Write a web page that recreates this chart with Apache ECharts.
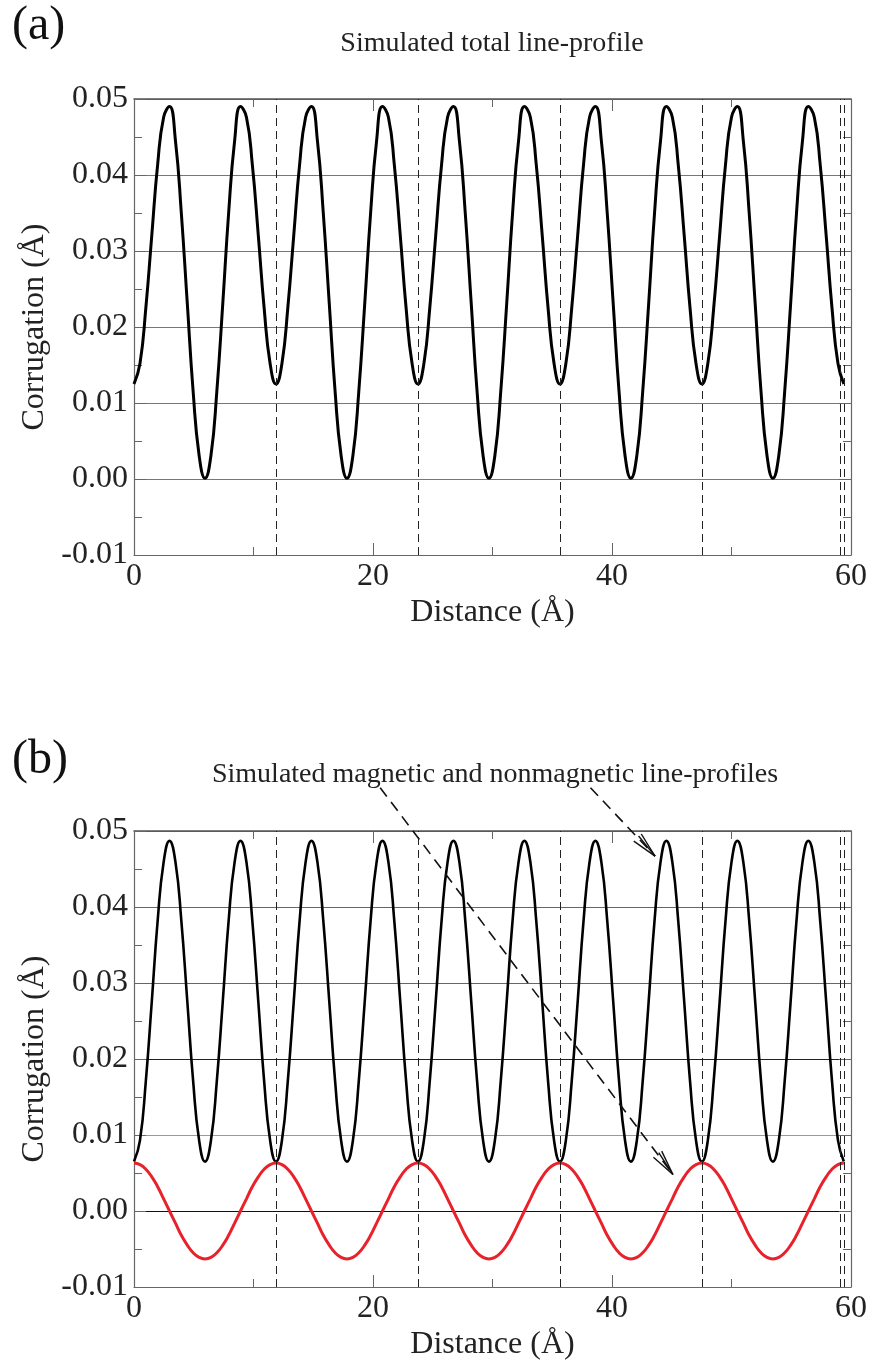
<!DOCTYPE html>
<html>
<head>
<meta charset="utf-8">
<script src="https://cdn.jsdelivr.net/npm/echarts@6/dist/echarts.min.js"></script>
<style>
  html, body { margin: 0; padding: 0; background: #fff; }
  #chart { width: 873px; height: 1364px; }
</style>
</head>
<body>
<div id="chart"></div>
<script>
// sample positions along the line (Å)
var distance = [
  0, 0.50, 0.99, 1.49, 1.98, 2.48, 2.97, 3.47, 3.96, 4.46, 4.95, 5.45,
  5.94, 6.44, 6.93, 7.43, 7.92, 8.42, 8.91, 9.41, 9.90, 10.40, 10.89, 11.39,
  11.88, 12.38, 12.87, 13.37, 13.86, 14.36, 14.85, 15.35, 15.84, 16.34, 16.83, 17.33,
  17.82, 18.32, 18.81, 19.31, 19.80, 20.30, 20.79, 21.29, 21.78, 22.28, 22.77, 23.27,
  23.76, 24.26, 24.75, 25.25, 25.74, 26.24, 26.73, 27.23, 27.72, 28.22, 28.71, 29.21,
  29.70, 30.20, 30.69, 31.19, 31.68, 32.18, 32.67, 33.17, 33.66, 34.16, 34.65, 35.15,
  35.64, 36.14, 36.63, 37.13, 37.62, 38.12, 38.61, 39.11, 39.60, 40.10, 40.59, 41.09,
  41.58, 42.08, 42.57, 43.07, 43.56, 44.06, 44.55, 45.05, 45.54, 46.04, 46.53, 47.03,
  47.52, 48.02, 48.51, 49.01, 49.50, 50.00, 50.49, 50.99, 51.48, 51.98, 52.47, 52.97,
  53.46, 53.96, 54.45, 54.95, 55.44, 55.94, 56.43, 56.93, 57.42, 57.92, 58.41, 58.91,
  59.40
];

// (a) total corrugation (Å)
var totalProfile = [
  0.0125, 0.0152, 0.0225, 0.0321, 0.0414, 0.0476, 0.0490, 0.0445, 0.0350, 0.0231, 0.0115, 0.0031,
  0.0001, 0.0031, 0.0115, 0.0231, 0.0350, 0.0445, 0.0490, 0.0476, 0.0414, 0.0321, 0.0225, 0.0152,
  0.0125, 0.0152, 0.0225, 0.0321, 0.0414, 0.0476, 0.0490, 0.0445, 0.0350, 0.0231, 0.0115, 0.0031,
  0.0001, 0.0031, 0.0115, 0.0231, 0.0350, 0.0445, 0.0490, 0.0476, 0.0414, 0.0321, 0.0225, 0.0152,
  0.0125, 0.0152, 0.0225, 0.0321, 0.0414, 0.0476, 0.0490, 0.0445, 0.0350, 0.0231, 0.0115, 0.0031,
  0.0001, 0.0031, 0.0115, 0.0231, 0.0350, 0.0445, 0.0490, 0.0476, 0.0414, 0.0321, 0.0225, 0.0152,
  0.0125, 0.0152, 0.0225, 0.0321, 0.0414, 0.0476, 0.0490, 0.0445, 0.0350, 0.0231, 0.0115, 0.0031,
  0.0001, 0.0031, 0.0115, 0.0231, 0.0350, 0.0445, 0.0490, 0.0476, 0.0414, 0.0321, 0.0225, 0.0152,
  0.0125, 0.0152, 0.0225, 0.0321, 0.0414, 0.0476, 0.0490, 0.0445, 0.0350, 0.0231, 0.0115, 0.0031,
  0.0001, 0.0031, 0.0115, 0.0231, 0.0350, 0.0445, 0.0490, 0.0476, 0.0414, 0.0321, 0.0225, 0.0152,
  0.0125
];

// (b) black curve
var nonmagneticProfile = [
  0.0065, 0.0093, 0.0171, 0.0276, 0.0382, 0.0459, 0.0487, 0.0459, 0.0382, 0.0276, 0.0171, 0.0093,
  0.0065, 0.0093, 0.0171, 0.0276, 0.0382, 0.0459, 0.0487, 0.0459, 0.0382, 0.0276, 0.0171, 0.0093,
  0.0065, 0.0093, 0.0171, 0.0276, 0.0382, 0.0459, 0.0487, 0.0459, 0.0382, 0.0276, 0.0171, 0.0093,
  0.0065, 0.0093, 0.0171, 0.0276, 0.0382, 0.0459, 0.0487, 0.0459, 0.0382, 0.0276, 0.0171, 0.0093,
  0.0065, 0.0093, 0.0171, 0.0276, 0.0382, 0.0459, 0.0487, 0.0459, 0.0382, 0.0276, 0.0171, 0.0093,
  0.0065, 0.0093, 0.0171, 0.0276, 0.0382, 0.0459, 0.0487, 0.0459, 0.0382, 0.0276, 0.0171, 0.0093,
  0.0065, 0.0093, 0.0171, 0.0276, 0.0382, 0.0459, 0.0487, 0.0459, 0.0382, 0.0276, 0.0171, 0.0093,
  0.0065, 0.0093, 0.0171, 0.0276, 0.0382, 0.0459, 0.0487, 0.0459, 0.0382, 0.0276, 0.0171, 0.0093,
  0.0065, 0.0093, 0.0171, 0.0276, 0.0382, 0.0459, 0.0487, 0.0459, 0.0382, 0.0276, 0.0171, 0.0093,
  0.0065, 0.0093, 0.0171, 0.0276, 0.0382, 0.0459, 0.0487, 0.0459, 0.0382, 0.0276, 0.0171, 0.0093,
  0.0065
];

// (b) red curve
var magneticProfile = [
  0.0063, 0.0061, 0.0055, 0.0045, 0.0032, 0.0016, 0.0000, -0.0016, -0.0032, -0.0045, -0.0055, -0.0061,
  -0.0063, -0.0061, -0.0055, -0.0045, -0.0032, -0.0016, 0.0000, 0.0016, 0.0032, 0.0045, 0.0055, 0.0061,
  0.0063, 0.0061, 0.0055, 0.0045, 0.0032, 0.0016, 0.0000, -0.0016, -0.0032, -0.0045, -0.0055, -0.0061,
  -0.0063, -0.0061, -0.0055, -0.0045, -0.0032, -0.0016, 0.0000, 0.0016, 0.0032, 0.0045, 0.0055, 0.0061,
  0.0063, 0.0061, 0.0055, 0.0045, 0.0032, 0.0016, 0.0000, -0.0016, -0.0032, -0.0045, -0.0055, -0.0061,
  -0.0063, -0.0061, -0.0055, -0.0045, -0.0032, -0.0016, 0.0000, 0.0016, 0.0032, 0.0045, 0.0055, 0.0061,
  0.0063, 0.0061, 0.0055, 0.0045, 0.0032, 0.0016, 0.0000, -0.0016, -0.0032, -0.0045, -0.0055, -0.0061,
  -0.0063, -0.0061, -0.0055, -0.0045, -0.0032, -0.0016, 0.0000, 0.0016, 0.0032, 0.0045, 0.0055, 0.0061,
  0.0063, 0.0061, 0.0055, 0.0045, 0.0032, 0.0016, 0.0000, -0.0016, -0.0032, -0.0045, -0.0055, -0.0061,
  -0.0063, -0.0061, -0.0055, -0.0045, -0.0032, -0.0016, 0.0000, 0.0016, 0.0032, 0.0045, 0.0055, 0.0061,
  0.0063
];

// dashed vertical lines (Å)
var cellEdges = [11.88, 23.76, 35.64, 47.52, 59.1, 59.4];

// arrows in (b): from label to curve, in data units
var arrowFrom = [[20.6, 0.0557], [38.2, 0.0557]];
var arrowTo = [[45.1, 0.0048], [43.6, 0.0467]];

var serif = '"Liberation Serif", "DejaVu Serif", serif';
var textColor = '#222';

function pairs(ys) {
    return distance.map(function (x, i) { return [x, ys[i]]; });
}

function bottomX(gridIndex) {
    return {
        type: 'value', gridIndex: gridIndex, position: 'bottom',
        min: 0, max: 60, interval: 20,
        name: 'Distance (Å)', nameLocation: 'middle', nameGap: 42,
        nameTextStyle: {fontFamily: serif, fontSize: 32, color: textColor},
        axisLine: {onZero: false, lineStyle: {color: '#666', width: 1.2}},
        axisTick: {inside: true, length: 12, lineStyle: {color: '#666'}},
        minorTick: {show: true, splitNumber: 2, length: 8, lineStyle: {color: '#666'}},
        axisLabel: {fontFamily: serif, fontSize: 32, color: textColor, margin: 6},
        splitLine: {show: false}
    };
}

function topX(gridIndex) {
    return {
        type: 'value', gridIndex: gridIndex, position: 'top',
        min: 0, max: 60, interval: 20,
        axisLine: {onZero: false, lineStyle: {color: '#555', width: 1.5}},
        axisTick: {inside: true, length: 12, lineStyle: {color: '#666'}},
        minorTick: {show: true, splitNumber: 2, length: 8, lineStyle: {color: '#666'}},
        axisLabel: {show: false},
        splitLine: {show: false}
    };
}

function leftY(gridIndex, gridColors) {
    return {
        type: 'value', gridIndex: gridIndex, position: 'left',
        min: -0.01, max: 0.05, interval: 0.01,
        name: 'Corrugation (Å)', nameLocation: 'middle', nameGap: 82, nameRotate: 90,
        nameTextStyle: {fontFamily: serif, fontSize: 32, color: textColor},
        axisLine: {onZero: false, lineStyle: {color: '#666', width: 1.2}},
        axisTick: {inside: true, length: 12, lineStyle: {color: '#666'}},
        minorTick: {show: true, splitNumber: 2, length: 8, lineStyle: {color: '#666'}},
        axisLabel: {
            fontFamily: serif, fontSize: 32, color: textColor, margin: 6,
            formatter: function (v) { return v.toFixed(2); }
        },
        splitLine: {show: true, lineStyle: {color: gridColors, width: 1.2}}
    };
}

function rightY(gridIndex) {
    return {
        type: 'value', gridIndex: gridIndex, position: 'right',
        min: -0.01, max: 0.05, interval: 0.01,
        axisLine: {onZero: false, lineStyle: {color: '#666', width: 1.2}},
        axisTick: {inside: true, length: 12, lineStyle: {color: '#666'}},
        minorTick: {show: true, splitNumber: 2, length: 8, lineStyle: {color: '#666'}},
        axisLabel: {show: false},
        splitLine: {show: false}
    };
}

var edgeLines = {
    silent: true,
    symbol: 'none',
    label: {show: false},
    lineStyle: {color: '#222', type: [8, 5], width: 1},
    data: cellEdges.map(function (x) { return {xAxis: x}; })
};

var chart = echarts.init(document.getElementById('chart'));

chart.setOption({
    animation: false,
    backgroundColor: '#fff',
    grid: [
        {left: 134, top: 99, right: 22, height: 456},
        {left: 134, top: 831, right: 22, height: 456}
    ],
    xAxis: [bottomX(0), topX(0), bottomX(1), topX(1)],
    yAxis: [
        leftY(0, '#777'),
        rightY(0),
        leftY(1, ['#888', '#111', '#999', '#222', '#666', '#666', '#666']),
        rightY(1)
    ],
    series: [
        {
            type: 'line', xAxisIndex: 0, yAxisIndex: 0,
            data: pairs(totalProfile), smooth: true, showSymbol: false,
            lineStyle: {color: '#000', width: 3},
            markLine: edgeLines, z: 3
        },
        {
            type: 'line', xAxisIndex: 2, yAxisIndex: 2,
            data: pairs(nonmagneticProfile), smooth: true, showSymbol: false,
            lineStyle: {color: '#000', width: 2.6},
            markLine: edgeLines, z: 3
        },
        {
            type: 'line', xAxisIndex: 2, yAxisIndex: 2,
            data: pairs(magneticProfile), smooth: true, showSymbol: false,
            lineStyle: {color: '#e8212b', width: 3}, z: 4
        }
    ]
});

// texts and arrows, arrows placed through the axes of panel (b)
var graphics = [
    {type: 'text', x: 12, y: 2, style: {text: '(a)', font: '48px ' + serif, fill: '#111'}},
    {type: 'text', x: 492, y: 44, style: {text: 'Simulated total line-profile', font: '28px ' + serif, fill: textColor, align: 'center', verticalAlign: 'middle', textAlign: 'center', textVerticalAlign: 'middle'}},
    {type: 'text', x: 12, y: 736, style: {text: '(b)', font: '48px ' + serif, fill: '#111'}},
    {type: 'text', x: 495, y: 775, style: {text: 'Simulated magnetic and nonmagnetic line-profiles', font: '28px ' + serif, fill: textColor, align: 'center', verticalAlign: 'middle', textAlign: 'center', textVerticalAlign: 'middle'}}
];

arrowFrom.forEach(function (from, i) {
    var p0 = chart.convertToPixel({gridIndex: 1}, from);
    var p1 = chart.convertToPixel({gridIndex: 1}, arrowTo[i]);
    graphics.push({
        type: 'line', z: 10,
        shape: {x1: p0[0], y1: p0[1], x2: p1[0], y2: p1[1]},
        style: {stroke: '#111', lineWidth: 1.6, lineDash: [11, 7]}
    });
    var ang = Math.atan2(p1[1] - p0[1], p1[0] - p0[0]);
    [-0.2, 0.2, 0.07].forEach(function (d) {
        var a = ang + Math.PI + d;
        graphics.push({
            type: 'line', z: 10,
            shape: {x1: p1[0], y1: p1[1], x2: p1[0] + 26 * Math.cos(a), y2: p1[1] + 26 * Math.sin(a)},
            style: {stroke: '#111', lineWidth: 1.4}
        });
    });
});

chart.setOption({graphic: graphics});
</script>
</body>
</html>
